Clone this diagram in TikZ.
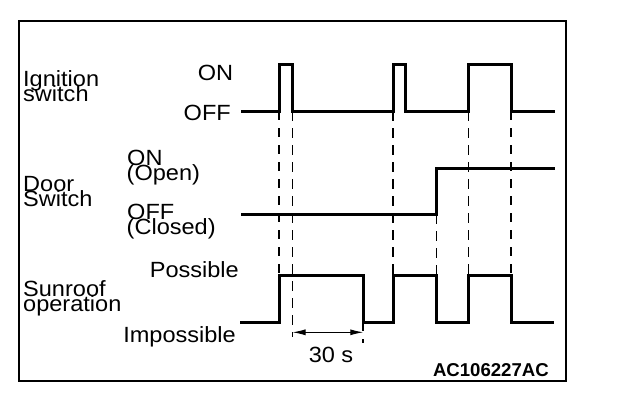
\documentclass[tikz,border=0pt]{standalone}
\usepackage{fontspec}
\setmainfont{Liberation Sans}[FakeStretch=1.07]
\newfontfamily\codefont{Liberation Sans}
\usetikzlibrary{arrows.meta}
\begin{document}
\begin{tikzpicture}[x=1pt,y=-1pt,
  sig/.style={line width=3pt, line join=miter},
  thickdash/.style={line width=2pt, dash pattern=on 9pt off 8pt},
  thindash/.style={line width=1.1pt, dash pattern=on 10pt off 7pt},
  lbl/.style={inner sep=0pt, font=\fontsize{22}{15}\selectfont},
  dim/.style={line width=1pt, {Latex[length=13pt,width=6pt]}-{Latex[length=13pt,width=6pt]}}]
\useasboundingbox (0,0) rectangle (624,420);
\draw[line width=2.5pt] (19,21) rectangle (566,381);
% signals
\draw[sig] (241,111) -- (279,111) -- (279,65) -- (292.5,65) -- (292.5,111) -- (393,111) -- (393,65) -- (405.5,65) -- (405.5,111) -- (468.5,111) -- (468.5,65) -- (511,65) -- (511,111) -- (555,111);
\draw[sig] (241,214) -- (436.5,214) -- (436.5,168) -- (555,168);
\draw[sig] (240,322.3) -- (279,322.3) -- (279,275.7) -- (363.3,275.7) -- (363.3,322.3) -- (393,322.3) -- (393,275.7) -- (436.5,275.7) -- (436.5,322.3) -- (468.5,322.3) -- (468.5,275.7) -- (511,275.7) -- (511,322.3) -- (554,322.3);
% dashed guides
\draw[thickdash] (279,111) -- (279,276);
\draw[thickdash] (511,111) -- (511,276);
\draw[thickdash] (363.3,322) -- (363.3,343);
\draw[thindash] (292.5,111) -- (292.5,337);
\draw[thindash] (393,111) -- (393,276);
\draw[thindash] (436.5,214) -- (436.5,276);
\draw[thindash] (468.5,111) -- (468.5,276);
% dimension
\coordinate (d1) at (292.5,332.3);
\coordinate (d2) at (363.3,332.3);
\draw[dim] (d1) -- (d2);
% labels
\node[lbl, anchor=base west] (ign1) at (23,86.7) {Ignition};
\node[lbl, anchor=base west] (ign2) at (23,101.7) {switch};
\node[lbl, anchor=base east] (ion) at (233.3,81) {ON};
\node[lbl, anchor=base east] (ioff) at (231,120.5) {OFF};
\node[lbl, anchor=base west] (door1) at (23,191.7) {Door};
\node[lbl, anchor=base west] (door2) at (23,206.7) {Switch};
\node[lbl, anchor=base west] (don) at (127,165) {ON};
\node[lbl, anchor=base west] (dopen) at (126.5,180) {(Open)};
\node[lbl, anchor=base west] (doff) at (127,219) {OFF};
\node[lbl, anchor=base west] (dclosed) at (126.5,234.3) {(Closed)};
\node[lbl, anchor=base east] (poss) at (239,277.7) {Possible};
\node[lbl, anchor=base west] (sun1) at (23,296.7) {Sunroof};
\node[lbl, anchor=base west] (sun2) at (23,311.7) {operation};
\node[lbl, anchor=base east] (imp) at (236,342.3) {Impossible};
\node[lbl, anchor=base] (thirty) at (331,362.7) {30 s};
\node[inner sep=0pt, anchor=base east, font=\codefont\bfseries\fontsize{18.6}{18}\selectfont] (code) at (549,376.7) {AC106227AC};
\end{tikzpicture}
\end{document}
